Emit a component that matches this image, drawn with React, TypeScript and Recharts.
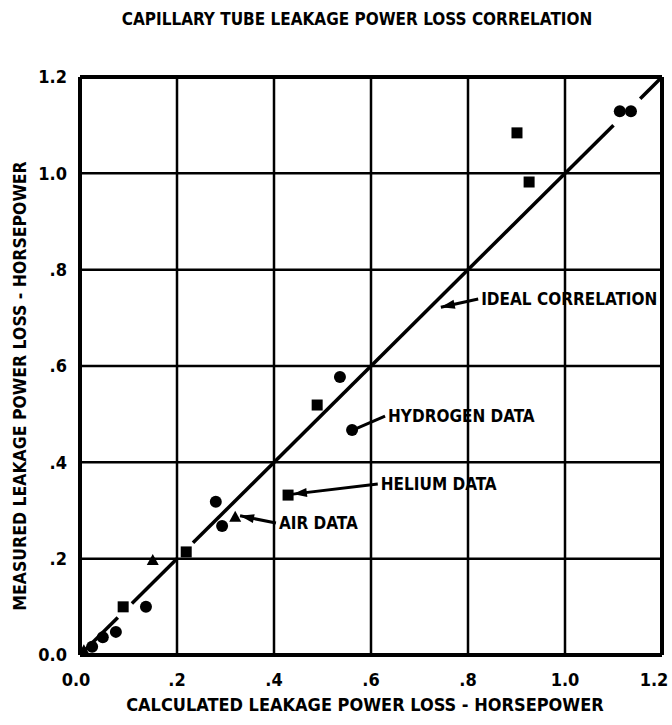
import React from 'react';
import { ScatterChart, Scatter, XAxis, YAxis, CartesianGrid, ReferenceLine } from 'recharts';

const TICKS = [0, 0.2, 0.4, 0.6, 0.8, 1.0, 1.2];
const TICK_LABELS = ['0.0', '.2', '.4', '.6', '.8', '1.0', '1.2'];

const hydrogenX = [0.025, 0.047, 0.074, 0.136, 0.28, 0.293, 0.536, 0.561, 1.113, 1.136];
const hydrogenY = [0.017, 0.037, 0.048, 0.1, 0.318, 0.268, 0.577, 0.467, 1.129, 1.129];
const heliumX = [0.089, 0.219, 0.429, 0.489, 0.901, 0.926];
const heliumY = [0.1, 0.214, 0.332, 0.519, 1.084, 0.982];
const airX = [0.008, 0.15, 0.32];
const airY = [0.01, 0.197, 0.287];

// ideal correlation line y = x, drawn in pieces (broken around data marks as in the original)
const idealStart = [0, 0.107, 0.233, 1.155];
const idealEnd = [0.078, 0.202, 1.1, 1.2];

const TITLE = 'CAPILLARY TUBE LEAKAGE POWER LOSS CORRELATION';
const X_TITLE = 'CALCULATED LEAKAGE POWER LOSS - HORSEPOWER';
const Y_TITLE = 'MEASURED LEAKAGE POWER LOSS - HORSEPOWER';

// annotations: text anchor point (x1,y1) -> arrow tip (x2,y2)
const annoText = ['IDEAL CORRELATION', 'HYDROGEN DATA', 'HELIUM DATA', 'AIR DATA'];
const annoFrom = [
  [0.821, 0.739],
  [0.629, 0.496],
  [0.614, 0.355],
  [0.404, 0.274],
];
const annoTo = [
  [0.744, 0.722],
  [0.567, 0.469],
  [0.439, 0.334],
  [0.33, 0.289],
];
const annoHead = [true, false, true, true];

const FONT = '"DejaVu Sans Condensed", "DejaVu Sans", sans-serif';

const toPts = (xs: number[], ys: number[]) => xs.map((x, i) => ({ x, y: ys[i] }));
const hydrogen = toPts(hydrogenX, hydrogenY);
const helium = toPts(heliumX, heliumY);
const air = toPts(airX, airY);

const Circle = (p: any) => <circle cx={p.cx} cy={p.cy} r={6} fill="#000" />;
const Square = (p: any) => <rect x={p.cx - 5.5} y={p.cy - 5.5} width={11} height={11} fill="#000" />;
const Tri = (p: any) => (
  <polygon points={`${p.cx},${p.cy - 6} ${p.cx + 6},${p.cy + 5} ${p.cx - 6},${p.cy + 5}`} fill="#000" />
);

const makeArrow = (text: string, head: boolean) => (p: any) => {
  const { x1, y1, x2, y2 } = p;
  const dx = x2 - x1;
  const dy = y2 - y1;
  const len = Math.sqrt(dx * dx + dy * dy) || 1;
  const ux = dx / len;
  const uy = dy / len;
  const hl = 14;
  const hw = 4.5;
  const bx = x2 - ux * hl;
  const by = y2 - uy * hl;
  return (
    <g>
      <line x1={x1} y1={y1} x2={x2} y2={y2} stroke="#000" strokeWidth={3} />
      {head && (
        <polygon
          points={`${x2},${y2} ${bx - uy * hw},${by + ux * hw} ${bx + uy * hw},${by - ux * hw}`}
          fill="#000"
        />
      )}
      <text
        x={x1 + 3}
        y={y1}
        dy="0.36em"
        textAnchor="start"
        fontFamily={FONT}
        fontWeight="bold"
        fontSize={17}
        fill="#000"
      >
        {text}
      </text>
    </g>
  );
};

const XTick = (p: any) => {
  const v = p.payload.value;
  const idx = TICKS.indexOf(v);
  const shift = idx === TICKS.length - 1 ? -8 : idx === 0 ? -4 : 0;
  return (
    <text
      x={p.x + shift}
      y={p.y}
      dy="0.71em"
      textAnchor="middle"
      fontFamily={FONT}
      fontWeight="bold"
      fontSize={18}
      fill="#000"
    >
      {TICK_LABELS[idx] ?? ''}
    </text>
  );
};

const YTick = (p: any) => {
  const v = p.payload.value;
  const idx = TICKS.indexOf(v);
  return (
    <text
      x={p.x}
      y={p.y}
      dy="0.36em"
      textAnchor="end"
      fontFamily={FONT}
      fontWeight="bold"
      fontSize={18}
      fill="#000"
    >
      {TICK_LABELS[idx] ?? ''}
    </text>
  );
};

export default function App() {
  return (
    <div style={{ position: 'absolute', left: 0, top: 0, width: 672, height: 725, background: '#fff' }}>
      <div
        style={{
          position: 'absolute',
          left: 0,
          top: 9,
          width: 714,
          textAlign: 'center',
          fontFamily: FONT,
          fontWeight: 'bold',
          fontSize: 17,
          color: '#000',
        }}
      >
        {TITLE}
      </div>
      <ScatterChart width={672} height={725} margin={{ top: 77, right: 10, bottom: 0, left: 0 }}>
        <CartesianGrid stroke="#000" strokeWidth={2.5} horizontalValues={TICKS} verticalValues={TICKS} />
        <XAxis
          type="number"
          dataKey="x"
          domain={[0, 1.2]}
          ticks={TICKS}
          tick={<XTick />}
          tickLine={false}
          axisLine={{ stroke: '#000', strokeWidth: 4 }}
          tickMargin={12}
          height={70}
          allowDataOverflow
          label={{
            content: (lp: any) => {
              const vb = lp.viewBox;
              return (
                <text
                  x={vb.x + vb.width / 2 - 6}
                  y={vb.y + 56}
                  textAnchor="middle"
                  fontFamily={FONT}
                  fontWeight="bold"
                  fontSize={18}
                  fill="#000"
                >
                  {X_TITLE}
                </text>
              );
            },
          }}
        />
        <YAxis
          type="number"
          dataKey="y"
          domain={[0, 1.2]}
          ticks={TICKS}
          tick={<YTick />}
          tickLine={false}
          axisLine={{ stroke: '#000', strokeWidth: 4 }}
          tickMargin={7}
          width={80}
          allowDataOverflow
          label={{
            content: () => {
              const cx = 20;
              const cy = 386;
              return (
                <text
                  x={cx}
                  y={cy}
                  transform={`rotate(-90 ${cx} ${cy})`}
                  textAnchor="middle"
                  dominantBaseline="central"
                  fontFamily={FONT}
                  fontWeight="bold"
                  fontSize={17.5}
                  fill="#000"
                >
                  {Y_TITLE}
                </text>
              );
            },
          }}
        />
        <ReferenceLine x={1.2} stroke="#000" strokeWidth={4} />
        <ReferenceLine y={1.2} stroke="#000" strokeWidth={4} />
        {idealStart.map((s, i) => (
          <ReferenceLine
            key={`ideal-${i}`}
            segment={[
              { x: s, y: s },
              { x: idealEnd[i], y: idealEnd[i] },
            ]}
            stroke="#000"
            strokeWidth={3.5}
          />
        ))}
        {annoText.map((t, i) => (
          <ReferenceLine
            key={t}
            segment={[
              { x: annoFrom[i][0], y: annoFrom[i][1] },
              { x: annoTo[i][0], y: annoTo[i][1] },
            ]}
            shape={makeArrow(t, annoHead[i])}
          />
        ))}
        <Scatter data={hydrogen} shape={Circle} isAnimationActive={false} />
        <Scatter data={helium} shape={Square} isAnimationActive={false} />
        <Scatter data={air} shape={Tri} isAnimationActive={false} />
      </ScatterChart>
    </div>
  );
}
